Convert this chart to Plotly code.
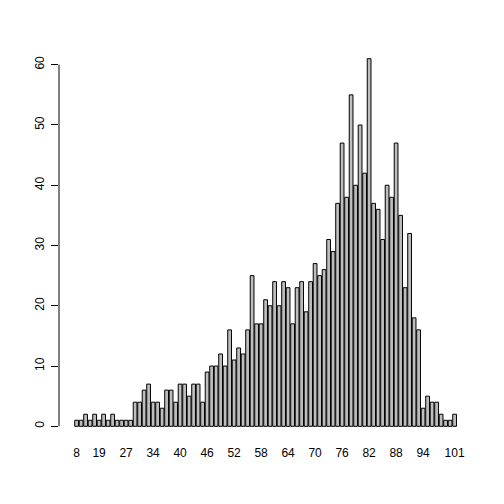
import plotly.graph_objects as go

ages = [8, 11, 13, 16, 18, 19, 20, 21, 22, 24, 25, 27, 28, 29, 30, 31, 32, 34] + list(range(35, 102))
counts = [1, 1, 2, 1, 2, 1, 2, 1, 2, 1, 1, 1, 1,
          4, 4, 6, 7, 4, 4, 3, 6, 6, 4, 7, 7, 5, 7, 7, 4,
          9, 10, 10, 12, 10, 16, 11, 13, 12, 16, 25, 17, 17, 21, 20, 24, 20, 24, 23, 17,
          23, 24, 19, 24, 27, 25, 26, 31, 29, 37, 47, 38, 55, 40, 50, 42, 61, 37, 36, 31,
          40, 38, 47, 35, 23, 32, 18, 16, 3, 5, 4, 4, 2, 1, 1, 2]
shown_labels = [8, 19, 27, 34, 40, 46, 52, 58, 64, 70, 76, 82, 88, 94, 101]
y_ticks = [0, 10, 20, 30, 40, 50, 60]

cats = [str(a) for a in ages]

fig = go.Figure(go.Bar(
    x=cats, y=counts,
    marker=dict(color="#bebebe", line=dict(color="black", width=1)),
))

fig.update_layout(
    width=504, height=504,
    margin=dict(l=59, r=30, t=44, b=63),
    paper_bgcolor="white", plot_bgcolor="white",
    bargap=0.2 / 1.2,
    showlegend=False,
    font=dict(family="Liberation Sans, Arial, sans-serif", size=12, color="black"),
    xaxis=dict(
        type="category",
        range=[-3.91, 88.31],
        tickmode="array",
        tickvals=[str(v) for v in shown_labels],
        ticktext=[str(v) for v in shown_labels],
        ticks="outside", ticklen=1, tickcolor="rgba(0,0,0,0)",
        showline=False, showgrid=False, zeroline=False,
        tickangle=0,
    ),
    yaxis=dict(
        range=[-2.44, 63.44],
        tickmode="array",
        tickvals=y_ticks,
        ticktext=[str(v) for v in y_ticks],
        ticks="outside", ticklen=7, tickcolor="black",
        showline=False, showgrid=False, zeroline=False,
        tickangle=-90,
        ticklabelstandoff=2,
    ),
    shapes=[dict(type="line", xref="paper", x0=0, x1=0, yref="y", y0=0, y1=60,
                 line=dict(color="black", width=1))],
)

fig.write_html("out.html")
